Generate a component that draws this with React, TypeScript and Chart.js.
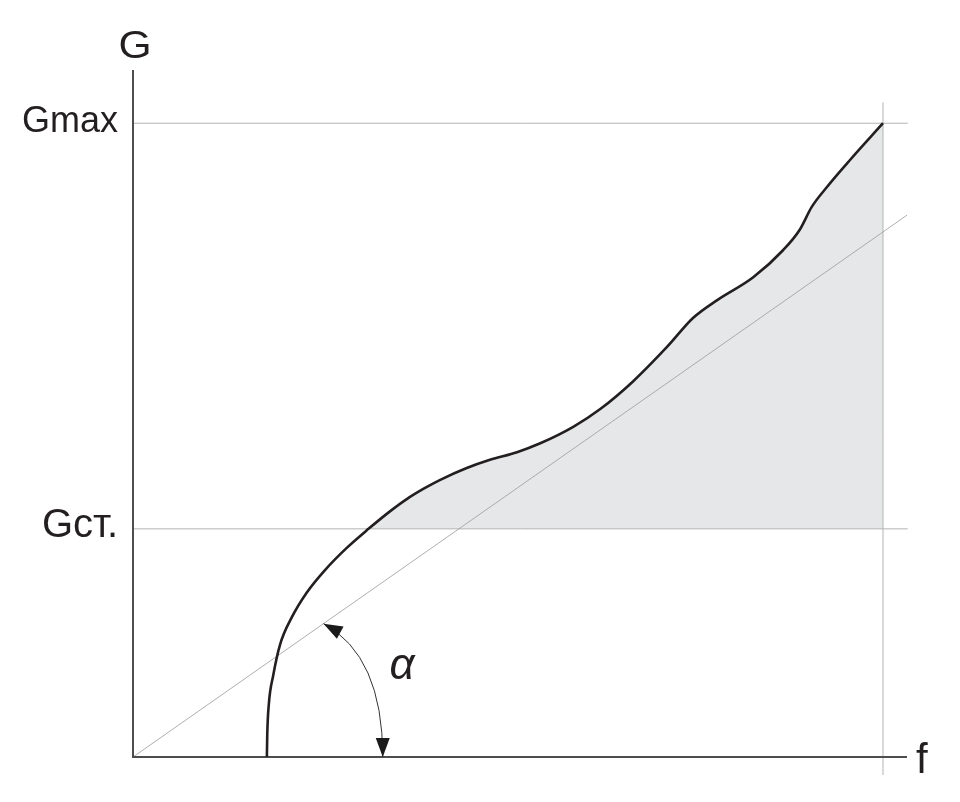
import React, { useEffect, useRef } from "react";
import { Chart, registerables } from "chart.js";

Chart.register(...registerables);

// Curve G(f) (f: 0..100 at the right vertical line, G: 0..100 at Gmax)
const curveF = [17.85, 17.9, 18.1, 18.7, 19.6, 21.2, 23.2, 25.6, 28.5, 31.4, 34.3, 36.5, 38.7, 40.9, 44.5, 47.6, 51.2, 54.3, 58.7, 62.3, 66.7, 71.2, 74.7, 77.9, 82.7, 86.7, 88.9, 90.5, 92.5, 95.6, 100];
const curveG = [0, 3.5, 8.2, 12.9, 17.7, 22.1, 26.0, 29.5, 33.0, 36.0, 38.8, 40.7, 42.3, 43.7, 45.6, 46.9, 48.1, 49.5, 52.1, 54.9, 59.3, 64.7, 69.3, 72.1, 75.7, 80.0, 83.2, 86.8, 89.9, 94.2, 100];

const G_MAX = 100;
const G_ST = 36;
const F_END = 100;
const F_AXIS_END = 103.2;
const G_AXIS_END = 108.4;
const LINE_END = 103.3;

// straight reference line through the origin
const diagF = [0, 103.2];
const diagG = [0, 85.5];

// vertical line at f end
const vertG = [-2.84, 103.3];

// level labels
const levelLabels = ["Gmax", "Gст."];
const levelValues = [G_MAX, G_ST];
const axisLabelY = "G";
const axisLabelX = "f";
const angleLabel = "α";

// angle arc end points (f on diagonal, f on axis)
const arcUpperF = 25.4;
const arcLowerF = 33.3;

const pts = (xs: number[], ys: number[]) => xs.map((x, i) => ({ x, y: ys[i] }));

const TEXT = "#231f20";

const annotations = {
  id: "annotations",
  afterDatasetsDraw(chart: any) {
    const { ctx, scales } = chart;
    const xs = scales.x;
    const ys = scales.y;
    const slope = diagG[1] / diagF[1];
    const p0 = { x: xs.getPixelForValue(arcUpperF), y: ys.getPixelForValue(arcUpperF * slope) };
    const p2 = { x: xs.getPixelForValue(arcLowerF), y: ys.getPixelForValue(0) };
    const p1 = { x: p2.x, y: p0.y + 32 };
    ctx.save();
    ctx.strokeStyle = "#333";
    ctx.fillStyle = "#1a1a1a";
    ctx.lineWidth = 1;
    ctx.beginPath();
    ctx.moveTo(p0.x, p0.y);
    ctx.quadraticCurveTo(p1.x, p1.y, p2.x, p2.y);
    ctx.stroke();
    const head = (tip: any, from: any) => {
      const dx = tip.x - from.x;
      const dy = tip.y - from.y;
      const L = Math.hypot(dx, dy);
      const ux = dx / L, uy = dy / L;
      const len = 19, hw = 7;
      const bx = tip.x - ux * len, by = tip.y - uy * len;
      ctx.beginPath();
      ctx.moveTo(tip.x, tip.y);
      ctx.lineTo(bx - uy * hw, by + ux * hw);
      ctx.lineTo(bx + uy * hw, by - ux * hw);
      ctx.closePath();
      ctx.fill();
    };
    head(p0, p1);
    head(p2, p1);
    ctx.restore();
  },
  afterDraw(chart: any) {
    const { ctx, scales } = chart;
    const xs = scales.x;
    const ys = scales.y;
    const x0 = xs.getPixelForValue(0);
    ctx.save();
    ctx.fillStyle = TEXT;
    ctx.textBaseline = "alphabetic";
    // G axis label
    ctx.save();
    ctx.font = "38px 'Liberation Sans', Arial, sans-serif";
    ctx.translate(x0 + 2, ys.getPixelForValue(G_AXIS_END) - 12);
    ctx.scale(1.12, 1);
    ctx.textAlign = "center";
    ctx.fillText(axisLabelY, 0, 0);
    ctx.restore();
    // level labels
    ctx.textAlign = "right";
    ctx.font = "36px 'Liberation Sans', Arial, sans-serif";
    ctx.fillText(levelLabels[0], x0 - 15, ys.getPixelForValue(levelValues[0]) + 9);
    ctx.font = "40px 'Liberation Sans', Arial, sans-serif";
    ctx.fillText(levelLabels[1], x0 - 15, ys.getPixelForValue(levelValues[1]) + 8);
    // f label
    ctx.textAlign = "left";
    ctx.font = "42px 'Liberation Sans', Arial, sans-serif";
    ctx.fillText(axisLabelX, xs.getPixelForValue(F_AXIS_END) + 9, ys.getPixelForValue(0) + 16);
    // alpha
    ctx.font = "italic 44px 'Liberation Sans', Arial, sans-serif";
    ctx.fillText(angleLabel, xs.getPixelForValue(34.2), ys.getPixelForValue(12.3));
    ctx.restore();
  },
};

export default function App() {
  const ref = useRef<HTMLCanvasElement | null>(null);
  useEffect(() => {
    if (!ref.current) return;
    const fillStart = curveG.findIndex((g) => g >= G_ST);
    const chart = new Chart(ref.current, {
      type: "line",
      data: {
        datasets: [
          {
            data: pts(curveF.slice(fillStart), curveG.slice(fillStart)),
            borderWidth: 0,
            borderColor: "rgba(0,0,0,0)",
            backgroundColor: "#e6e7e8",
            fill: { value: G_ST },
            cubicInterpolationMode: "monotone",
            pointRadius: 0,
            order: 10,
            clip: false,
          } as any,
          {
            data: pts([0, LINE_END], [G_MAX, G_MAX]),
            borderColor: "#b3b3b3",
            borderWidth: 1,
            pointRadius: 0,
            order: 5,
            clip: false,
          },
          {
            data: pts([0, LINE_END], [G_ST, G_ST]),
            borderColor: "#b3b3b3",
            borderWidth: 1,
            pointRadius: 0,
            order: 5,
            clip: false,
          },
          {
            data: pts([F_END, F_END], vertG),
            borderColor: "#b3b3b3",
            borderWidth: 1,
            pointRadius: 0,
            order: 5,
            clip: false,
          },
          {
            data: pts(diagF, diagG),
            borderColor: "#9a9a9a",
            borderWidth: 0.8,
            pointRadius: 0,
            order: 4,
            clip: false,
          },
          {
            data: pts([0, 0, F_AXIS_END], [G_AXIS_END, 0, 0]),
            borderColor: "#4d4d4d",
            borderWidth: 2,
            pointRadius: 0,
            order: 2,
            clip: false,
          },
          {
            data: pts(curveF, curveG),
            borderColor: "#231f20",
            borderWidth: 2.6,
            pointRadius: 0,
            cubicInterpolationMode: "monotone",
            order: 1,
            clip: false,
          } as any,
        ],
      },
      options: {
        animation: false,
        responsive: false,
        maintainAspectRatio: false,
        layout: { padding: { left: 133, right: 53, top: 70, bottom: 45 } },
        plugins: { legend: { display: false }, tooltip: { enabled: false } },
        scales: {
          x: { type: "linear", min: 0, max: F_AXIS_END, display: false },
          y: { type: "linear", min: 0, max: G_AXIS_END, display: false },
        },
        elements: { line: { capBezierPoints: false } },
      },
      plugins: [annotations],
    });
    return () => chart.destroy();
  }, []);
  return (
    <div style={{ position: "absolute", left: 0, top: 0, width: 960, height: 802, background: "#fff" }}>
      <canvas ref={ref} width={960} height={802} style={{ width: 960, height: 802, display: "block" }} />
    </div>
  );
}
